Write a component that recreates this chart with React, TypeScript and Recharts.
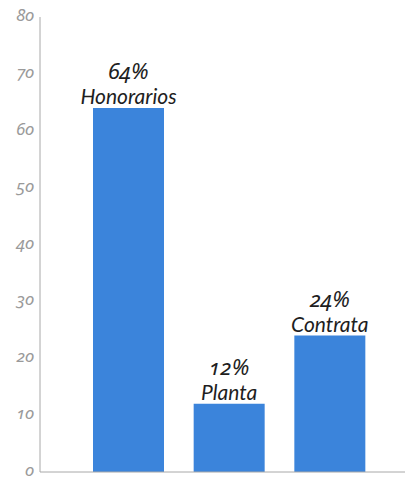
import { Bar, BarChart, LabelList, XAxis, YAxis } from "recharts";

const categories = ["Honorarios", "Planta", "Contrata"];
const shares = [64, 12, 24];
const yTicks = [0, 10, 20, 30, 40, 50, 60, 70, 80];

const rows = categories.map((name, i) => ({ name, value: shares[i] }));

const labelFont = "Lato, 'Noto Sans', sans-serif";
const numFont = "'Noto Sans', Lato, sans-serif";

function BarLabel(props: any) {
  const { x, y, width, index } = props;
  const cx = x + width / 2;
  return (
    <g>
      <text
        x={cx}
        y={y - 29}
        textAnchor="middle"
        fill="#1e1e1e"
        fontFamily={numFont}
        fontStyle="italic"
        fontSize={22}
        style={{ fontFeatureSettings: "'onum' 1" }}
      >
        {shares[index]}%
      </text>
      <text
        x={cx}
        y={y - 4}
        textAnchor="middle"
        fill="#1e1e1e"
        fontFamily={labelFont}
        fontStyle="italic"
        fontSize={21}
      >
        {categories[index]}
      </text>
    </g>
  );
}

function YTick(props: any) {
  const { x, y, payload } = props;
  return (
    <text
      x={x}
      y={y}
      dy={4}
      textAnchor="end"
      fill="#9a9a9a"
      fontFamily={numFont}
      fontStyle="italic"
      fontSize={17}
      style={{ fontFeatureSettings: "'onum' 1" }}
    >
      {payload.value}
    </text>
  );
}

export default function App() {
  return (
    <div style={{ position: "absolute", left: 0, top: 0 }}>
      <BarChart
        width={406}
        height={479}
        data={rows}
        margin={{ top: 17, right: 1, bottom: 6, left: 0 }}
      >
        <XAxis
          dataKey="name"
          tick={false}
          tickLine={false}
          height={1}
          stroke="#a8a8a8"
          padding={{ left: 38, right: 25 }}
        />
        <YAxis
          width={40}
          domain={[0, 80]}
          ticks={yTicks}
          interval={0}
          tickLine={false}
          tickSize={0}
          stroke="#a8a8a8"
          tickMargin={6}
          tick={<YTick />}
        />
        <Bar dataKey="value" fill="#3b84db" barSize={71} isAnimationActive={false}>
          <LabelList dataKey="value" content={<BarLabel />} />
        </Bar>
      </BarChart>
    </div>
  );
}
